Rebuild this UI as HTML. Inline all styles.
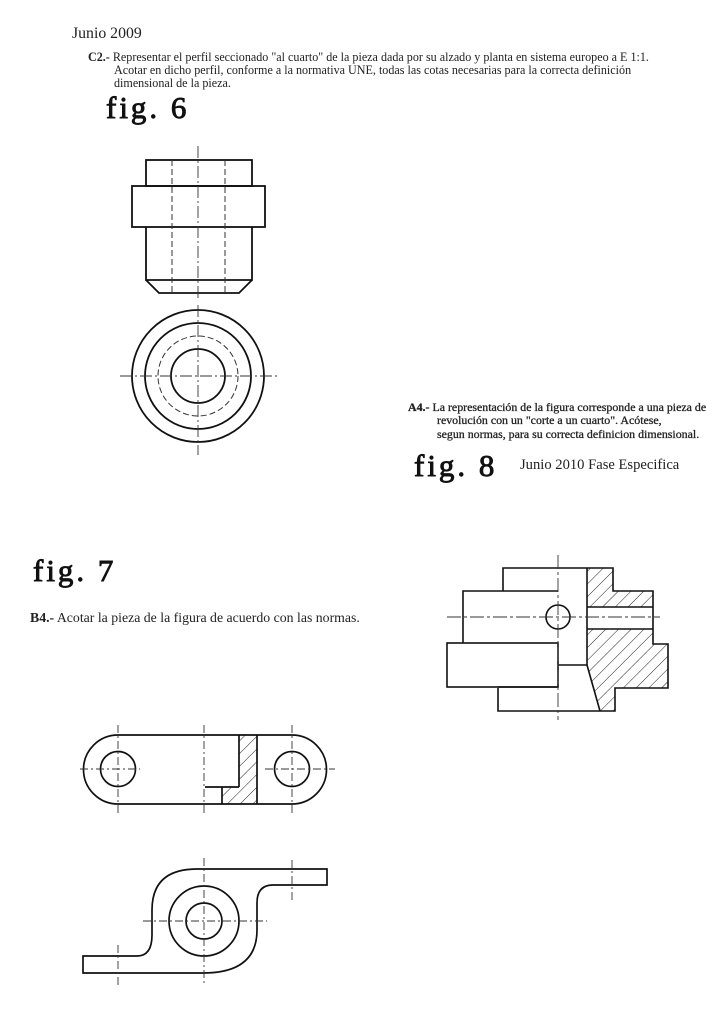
<!DOCTYPE html>
<html><head><meta charset="utf-8"><style>
html,body{margin:0;padding:0;background:#fff;width:724px;height:1024px;overflow:hidden}
svg{display:block}
.s{font-family:"Liberation Serif",serif;fill:#222}
.f{font-family:"Liberation Serif",serif;fill:#111;stroke:#111;stroke-width:0.9;letter-spacing:3px}
</style></head><body>
<svg width="724" height="1024" viewBox="0 0 724 1024" xmlns="http://www.w3.org/2000/svg">
<defs>
<pattern id="h" width="9" height="9" patternUnits="userSpaceOnUse" patternTransform="rotate(45)">
<line x1="0" y1="0" x2="0" y2="9" stroke="#222" stroke-width="1"/>
</pattern>
</defs>
<text class="s" x="72" y="38" font-size="15.8">Junio 2009</text>
<text class="s" font-size="12.1" x="88" y="61"><tspan font-weight="bold">C2.-</tspan> Representar el perfil seccionado "al cuarto" de la pieza dada por su alzado y planta en sistema europeo a E 1:1.</text>
<text class="s" font-size="12.1" x="114" y="74">Acotar en dicho perfil, conforme a la normativa UNE, todas las cotas necesarias para la correcta definición</text>
<text class="s" font-size="12.1" x="114" y="87">dimensional de la pieza.</text>
<text class="f" x="106" y="118" font-size="31">fig. 6</text>

<g fill="none" stroke="#111" stroke-width="1.8">
<rect x="146" y="160" width="106" height="26"/>
<rect x="132" y="186" width="133" height="41"/>
<path d="M146 227V280H252V227M146 280L159 293H239L252 280"/>
<circle cx="198" cy="376" r="66"/>
<circle cx="198" cy="376" r="53"/>
<circle cx="198" cy="376" r="27"/>
</g>
<g fill="none" stroke="#333" stroke-width="1" stroke-dasharray="6,3">
<line x1="172" y1="160" x2="172" y2="293"/>
<line x1="225" y1="160" x2="225" y2="293"/>
<circle cx="198" cy="376" r="40"/>
</g>
<g stroke="#333" stroke-width="0.9" stroke-dasharray="12,3,2,3">
<line x1="198" y1="146" x2="198" y2="300"/>
<line x1="198" y1="305" x2="198" y2="455"/>
<line x1="120" y1="376" x2="278" y2="376"/>
</g>

<g class="s" font-size="11.9" stroke="#222" stroke-width="0.3">
<text x="408" y="411"><tspan font-weight="bold">A4.-</tspan> La representación de la figura corresponde a una pieza de</text>
<text x="437" y="424">revolución con un "corte a un cuarto". Acótese,</text>
<text x="437" y="438">segun normas, para su correcta definicion dimensional.</text>
</g>
<text class="f" x="414" y="476" font-size="31">fig. 8</text>
<text class="s" x="520" y="469" font-size="14.6">Junio 2010 Fase Especifica</text>

<!-- fig 8 drawing -->
<path d="M587 568H613V591H653V607H587ZM587 629H653V644H668V688H615V711H600L587 665Z" fill="url(#h)" stroke="none"/>
<g fill="none" stroke="#111" stroke-width="1.6">
<path d="M503 591V568H613V591H653V644H668V688H615V711H498V688"/>
<path d="M463 643V591H558"/>
<rect x="447" y="643" width="111" height="44"/>
<line x1="587" y1="568" x2="587" y2="665"/>
<line x1="587" y1="665" x2="600" y2="711"/>
<line x1="558" y1="665" x2="587" y2="665"/>
<line x1="587" y1="607" x2="653" y2="607"/>
<line x1="587" y1="629" x2="653" y2="629"/>
<line x1="558" y1="687" x2="498" y2="687"/>
<circle cx="558" cy="617" r="12"/>
</g>
<g stroke="#333" stroke-width="0.9" stroke-dasharray="14,3,3,3">
<line x1="558" y1="555" x2="558" y2="720"/>
<line x1="447" y1="617" x2="660" y2="617"/>
</g>

<text class="f" x="33" y="581" font-size="31">fig. 7</text>
<text class="s" font-size="13.8" x="30" y="622"><tspan font-weight="bold">B4.-</tspan> Acotar la pieza de la figura de acuerdo con las normas.</text>

<!-- fig 7 top -->
<path d="M239 735H257V804H222V787H239Z" fill="url(#h)"/>
<g fill="none" stroke="#111" stroke-width="1.7">
<path d="M118 735H292A34.5 34.5 0 0 1 292 804H118A34.5 34.5 0 0 1 118 735Z"/>
<circle cx="118" cy="769" r="17.5"/>
<circle cx="292" cy="769" r="17.5"/>
<line x1="239" y1="735" x2="239" y2="787"/>
<line x1="257" y1="735" x2="257" y2="804"/>
<line x1="205" y1="787" x2="239" y2="787"/>
<line x1="222" y1="787" x2="222" y2="804"/>
</g>
<g stroke="#333" stroke-width="0.9" stroke-dasharray="8,3,2,3">
<line x1="118" y1="725" x2="118" y2="815"/>
<line x1="204" y1="725" x2="204" y2="815"/>
<line x1="292" y1="725" x2="292" y2="815"/>
<line x1="80" y1="769" x2="140" y2="769"/>
<line x1="265" y1="769" x2="335" y2="769"/>
</g>

<!-- fig 7 bottom -->
<g fill="none" stroke="#111" stroke-width="1.7">
<path d="M197 869H327V885H273Q257 885 257 903V930Q257 973 203 973H83V956H137Q152 956 152 935V910Q152 869 197 869Z"/>
<circle cx="204" cy="921" r="35"/>
<circle cx="204" cy="921" r="18"/>
</g>
<g stroke="#333" stroke-width="0.9" stroke-dasharray="8,3,2,3">
<line x1="204" y1="858" x2="204" y2="985"/>
<line x1="292" y1="860" x2="292" y2="902"/>
<line x1="118" y1="945" x2="118" y2="985"/>
<line x1="143" y1="921" x2="267" y2="921"/>
</g>
</svg>
</body></html>
